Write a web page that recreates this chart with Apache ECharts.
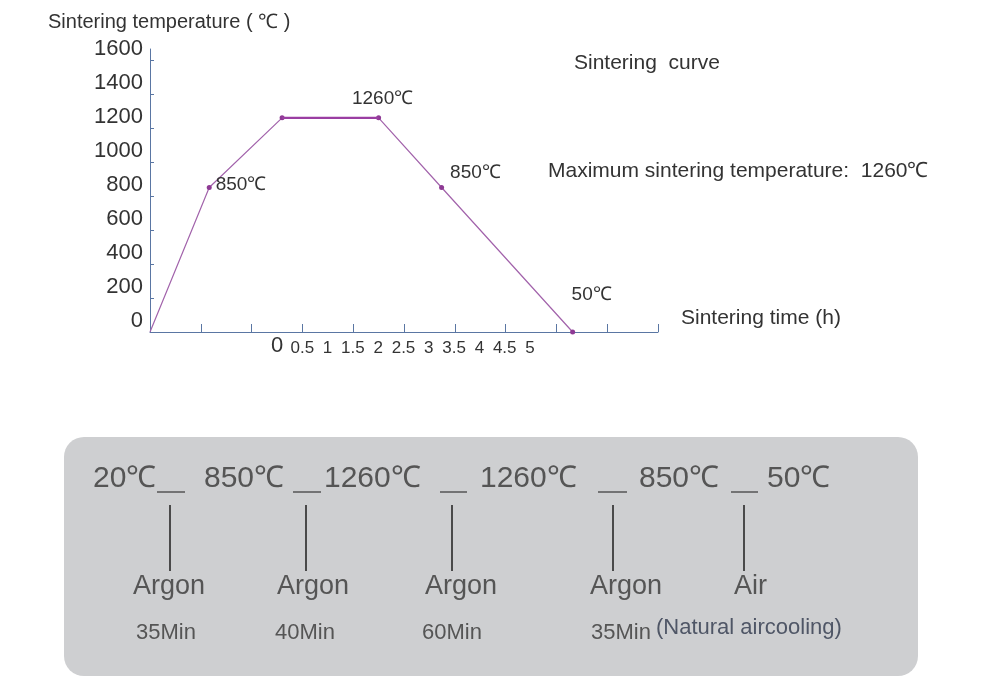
<!DOCTYPE html>
<html>
<head>
<meta charset="utf-8">
<script src="https://cdn.jsdelivr.net/npm/echarts@6/dist/echarts.min.js"></script>
<style>
  html, body { margin: 0; padding: 0; background: #ffffff; }
  #chart { width: 1000px; height: 678px; }
</style>
</head>
<body>
<div id="chart"></div>
<script>
// ---- data ----
const timeH = [0, 0.583, 1.30, 2.25, 2.87, 4.16];
const tempC = [0, 850, 1260, 1260, 850, 0];
const pointLabels = ['', '850℃', '', '1260℃', '850℃', '50℃'];
const yTickValues = [200, 400, 600, 800, 1000, 1200, 1400, 1600];
const yLabelValues = [0, 200, 400, 600, 800, 1000, 1200, 1400, 1600];
const xTickLabels = [0, 0.5, 1, 1.5, 2, 2.5, 3, 3.5, 4, 4.5, 5];
const stageTemps = ['20℃', '850℃', '1260℃', '1260℃', '850℃', '50℃'];
const stageGas = ['Argon', 'Argon', 'Argon', 'Argon', 'Air'];
const stageTime = ['35Min', '40Min', '60Min', '35Min', '(Natural aircooling)'];

// ---- layout (not data) ----
const FONT = '"Liberation Sans", Arial, sans-serif';
const AXIS = '#5a76a3';
const labelPlace = [
  null,
  { position: 'right', offset: [-1, -3] },
  null,
  { position: 'top', offset: [4, -2] },
  { position: 'right', offset: [1, -15] },
  { position: 'top', offset: [19, -20] }
];
const tempX = [93, 204, 324, 480, 639, 767];
const dashX = [[157, 185], [293, 321], [440, 467], [598, 627], [731, 758]];
const barX = [170, 306, 452, 613, 744];
const gasX = [133, 277, 425, 590, 734];
const timeX = [136, 275, 422, 591, 656];

const curveData = timeH.map((t, i) => ({
  value: [t, tempC[i]],
  symbolSize: i === 0 ? 0 : 5,
  label: pointLabels[i] ? Object.assign({ show: true, formatter: pointLabels[i] }, labelPlace[i]) : { show: false }
}));
const maxT = Math.max(...tempC);
const plateau = timeH.map((t, i) => [t, tempC[i]]).filter(p => p[1] === maxT);

const graphics = [];
function txt(text, x, y, size, fill, extra) {
  graphics.push({ type: 'text', x: x, y: y, z: 10,
    style: Object.assign({ text: text, font: size + 'px ' + FONT, fill: fill, verticalAlign: 'middle', align: 'left' }, extra || {}) });
}
txt('Sintering temperature ( ℃ )', 48, 22, 20, '#333');
txt('Sintering  curve', 574, 63, 21, '#333');
txt('Maximum sintering temperature:  1260℃', 548, 171, 21, '#333');
txt('Sintering time (h)', 681, 318, 21, '#333');
// bottom panel
graphics.push({ type: 'rect', z: 1, shape: { x: 64, y: 437, width: 854, height: 239, r: 20 }, style: { fill: '#cecfd1' } });
stageTemps.forEach((s, i) => txt(s, tempX[i], 479, 30, '#555'));
dashX.forEach(d => graphics.push({ type: 'line', z: 10, shape: { x1: d[0], y1: 492, x2: d[1], y2: 492 }, style: { stroke: '#555', lineWidth: 1.5 } }));
barX.forEach(x => graphics.push({ type: 'line', z: 10, shape: { x1: x, y1: 505, x2: x, y2: 571 }, style: { stroke: '#4a4a4a', lineWidth: 2 } }));
stageGas.forEach((s, i) => txt(s, gasX[i], 587, 27, '#555'));
stageTime.forEach((s, i) => txt(s, timeX[i], i === 4 ? 628 : 633, 22, i === 4 ? '#4f5666' : '#555'));

const chart = echarts.init(document.getElementById('chart'), null, { renderer: 'canvas' });
chart.setOption({
  animation: false,
  backgroundColor: '#ffffff',
  grid: [
    { left: 150, top: 49, width: 508, height: 283 },
    { left: 277, top: 331, width: 253, height: 1 }
  ],
  xAxis: [
    {
      gridIndex: 0, type: 'value', min: 0, max: 5, interval: 0.5,
      axisLine: { lineStyle: { color: AXIS, width: 1 } },
      axisTick: { show: true, inside: true, length: 8, lineStyle: { color: AXIS } },
      axisLabel: { show: false },
      splitLine: { show: false }
    },
    {
      gridIndex: 1, type: 'value', min: 0, max: 5, interval: 0.5,
      axisLine: { show: false }, axisTick: { show: false }, splitLine: { show: false },
      axisLabel: {
        show: true, margin: 25, verticalAlign: 'bottom', color: '#333', fontFamily: FONT, fontSize: 17,
        formatter: v => v === xTickLabels[0] ? '{big|' + v + '}' : String(v),
        rich: { big: { fontSize: 22, fontFamily: FONT, color: '#333' } }
      }
    }
  ],
  yAxis: [
    {
      gridIndex: 0, type: 'value', min: 0, max: 1665,
      axisLine: { show: true, lineStyle: { color: AXIS, width: 1 } },
      axisTick: { show: true, inside: true, length: 4, customValues: yTickValues, lineStyle: { color: AXIS } },
      axisLabel: { show: true, customValues: yLabelValues, margin: 7, verticalAlign: 'bottom', color: '#333', fontFamily: FONT, fontSize: 22,
        formatter: v => String(v) },
      splitLine: { show: false }
    },
    { gridIndex: 1, type: 'value', show: false }
  ],
  series: [
    {
      type: 'line', xAxisIndex: 0, yAxisIndex: 0, data: curveData,
      symbol: 'circle', itemStyle: { color: '#8e3a94' },
      lineStyle: { color: '#a263ab', width: 1.2 },
      label: { color: '#333', fontFamily: FONT, fontSize: 19 },
      z: 3
    },
    {
      type: 'line', xAxisIndex: 0, yAxisIndex: 0, data: plateau,
      symbol: 'none', lineStyle: { color: '#9a3ea2', width: 2.2 }, silent: true, z: 4
    }
  ],
  graphic: graphics
});
</script>
</body>
</html>
